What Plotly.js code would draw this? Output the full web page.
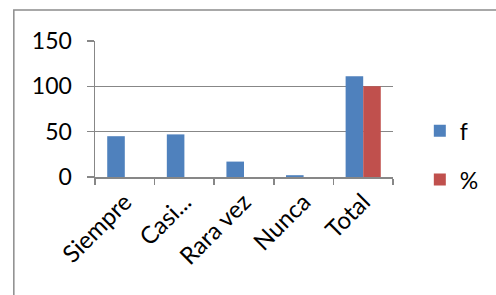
<!DOCTYPE html>
<html>
<head>
<meta charset="utf-8">
<script src="https://cdn.plot.ly/plotly-3.0.1.min.js"></script>
<style>
  html, body { margin: 0; padding: 0; background: #fff; }
  #chart { width: 496px; height: 295px; }
</style>
</head>
<body>
<div id="chart"></div>
<script>
const categories = ["Siempre", "Casi...", "Rara vez", "Nunca", "Total"];
const seriesF = [45, 47, 17, 2, 111];
const seriesPct = [null, null, null, null, 100];
const yTicks = [0, 50, 100, 150];

const FONT = "Lato, 'Open Sans', sans-serif";
const GRID = "#878787";

const traces = [
  { type: "bar", name: "f", x: categories, y: seriesF,
    marker: { color: "#4F81BD" }, legendgroup: "a", hoverinfo: "none" },
  { type: "bar", name: "%", x: categories, y: seriesPct,
    marker: { color: "#C0504D" }, legendgroup: "b", hoverinfo: "none" }
];

const layout = {
  width: 496, height: 295,
  margin: { l: 95, r: 100, t: 41, b: 118, pad: 0 },
  paper_bgcolor: "#fff", plot_bgcolor: "#fff",
  font: { family: FONT, size: 23, color: "#000" },
  barmode: "group", bargap: 0.41, bargroupgap: 0,
  showlegend: true,
  legend: {
    x: 1.09, xanchor: "left", y: 0.16, yanchor: "middle",
    font: { family: FONT, size: 23, color: "#000" },
    traceorder: "grouped", tracegroupgap: 16,
    bgcolor: "rgba(0,0,0,0)"
  },
  xaxis: {
    type: "category", tickson: "boundaries",
    ticks: "outside", ticklen: 6, tickcolor: GRID, tickwidth: 1.5,
    showline: true, linecolor: GRID, linewidth: 1.5,
    showgrid: false, tickangle: -45,
    tickfont: { family: FONT, size: 24, color: "#000" },
    fixedrange: true
  },
  yaxis: {
    range: [0, 150], tickvals: yTicks, ticktext: yTicks.map(String),
    ticks: "outside", ticklen: 7, tickcolor: GRID, tickwidth: 1.5,
    showline: true, linecolor: GRID, linewidth: 1.5,
    showgrid: true, gridcolor: GRID, gridwidth: 1.5,
    zeroline: false, ticklabelstandoff: 10,
    tickfont: { family: FONT, size: 23, color: "#000" },
    fixedrange: true
  },
  shapes: [{
    type: "rect", xref: "paper", yref: "paper",
    x0: (13 - 95) / 301, x1: (520 - 95) / 301,
    y0: (295 - 320 - 118) / 136, y1: (295 - 10 - 118) / 136,
    line: { color: "#8c8c8c", width: 1.5 }, fillcolor: "rgba(0,0,0,0)",
    layer: "below"
  }]
};

Plotly.newPlot("chart", traces, layout, { displayModeBar: false, staticPlot: true });
</script>
</body>
</html>
